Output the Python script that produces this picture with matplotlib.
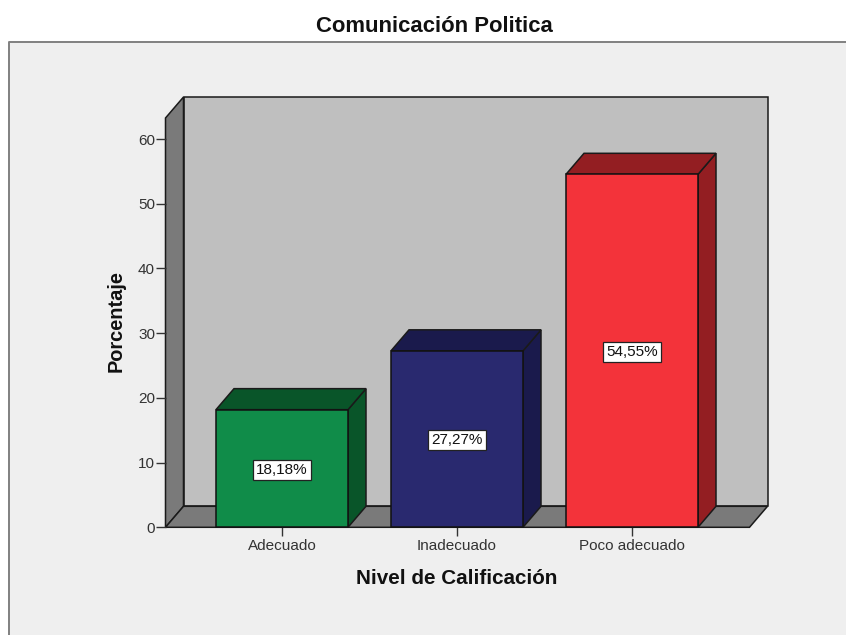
import matplotlib
matplotlib.use("Agg")
import matplotlib.pyplot as plt
from matplotlib.patches import Polygon, Rectangle

categories = ["Adecuado", "Inadecuado", "Poco adecuado"]
values = [18.18, 27.27, 54.55]
value_labels = ["18,18%", "27,27%", "54,55%"]
y_ticks = [0, 10, 20, 30, 40, 50, 60]
front_colors = ["#108c49", "#29296f", "#f3333a"]
side_colors = ["#095529", "#1a1a4c", "#931e22"]

W, H = 846, 635
plt.rcParams["font.family"] = ["Liberation Sans", "DejaVu Sans"]
fig = plt.figure(figsize=(W / 100, H / 100), dpi=100, facecolor="white")

# grey chart panel
fig.add_artist(Rectangle((8.5 / W, 0), (W - 8.5) / W, (H - 42) / H, transform=fig.transFigure,
                         facecolor="#efefef", edgecolor="none", zorder=-5))
fig.add_artist(plt.Line2D([8.5 / W, 8.5 / W, 1], [0, (H - 42) / H, (H - 42) / H],
                          color="#808080", lw=1.4, zorder=-4))

# axes occupy the front plane of the 3-D frame
L, R, T, B = 165.5, 749.5, 118, 527.3
ax = fig.add_axes([L / W, 1 - B / H, (R - L) / W, (B - T) / H])
step = 175.0
centre0 = 282.0
ax.set_xlim((L - centre0) / step, (R - centre0) / step)
ymax = 63.25
ax.set_ylim(0, ymax)
ax.patch.set_visible(False)
for s in ax.spines.values():
    s.set_visible(False)

dx = 18 / step
dy = 21 / ((B - T) / ymax)
x0, x1 = ax.get_xlim()
edge = dict(edgecolor="#1a1a1a", linewidth=1.1, clip_on=False)

# back wall, side wall, floor
ax.add_patch(Polygon([(x0 + dx, dy), (x1 + dx, dy), (x1 + dx, ymax + dy), (x0 + dx, ymax + dy)],
                     facecolor="#bfbfbf", zorder=1, **edge))
ax.add_patch(Polygon([(x0, 0), (x0 + dx, dy), (x0 + dx, ymax + dy), (x0, ymax)],
                     facecolor="#7a7a7a", zorder=1, **edge))
ax.add_patch(Polygon([(x0, 0), (x1, 0), (x1 + dx, dy), (x0 + dx, dy)],
                     facecolor="#7a7a7a", zorder=1, **edge))

# bars
width = 132 / step
for i, (v, fc, sc, lab) in enumerate(zip(values, front_colors, side_colors, value_labels)):
    a, b = i - width / 2, i + width / 2
    ax.add_patch(Polygon([(b, 0), (b + dx, dy), (b + dx, v + dy), (b, v)],
                         facecolor=sc, zorder=3, **edge))
    ax.add_patch(Polygon([(a, v), (b, v), (b + dx, v + dy), (a + dx, v + dy)],
                         facecolor=sc, zorder=3, **edge))
    ax.bar(i, v, width=width, color=fc, edgecolor="#111111", linewidth=1.1, zorder=4, clip_on=False)
    ax.annotate(lab, (i, v / 2), xytext=(0, -0.8), textcoords="offset points",
                ha="center", va="center", fontsize=11, color="#111111", zorder=6,
                bbox=dict(boxstyle="square,pad=0.2", facecolor="white", edgecolor="#222222", linewidth=0.9))

ax.set_yticks(y_ticks)
ax.set_xticks(range(len(categories)))
ax.set_xticklabels(categories)
ax.tick_params(axis="y", length=7, width=1, color="#333333", labelcolor="#333333", labelsize=11, pad=0.5)
ax.tick_params(axis="x", length=6.5, width=1, color="#333333", labelcolor="#333333", labelsize=11, pad=2)

def px(x, y):
    return x / W, 1 - y / H

fig.text(*px(434.5, 27), "Comunicación Politica", ha="center", va="center",
         fontsize=15.9, fontweight="bold", color="#111111")
fig.text(*px(456.5, 578), "Nivel de Calificación", ha="center", va="center",
         fontsize=14.9, fontweight="bold", color="#111111")
fig.text(*px(116, 321), "Porcentaje", ha="center", va="center", rotation=90,
         fontsize=14.4, fontweight="bold", color="#111111")

fig.savefig("out.png", dpi=100, facecolor="white")
